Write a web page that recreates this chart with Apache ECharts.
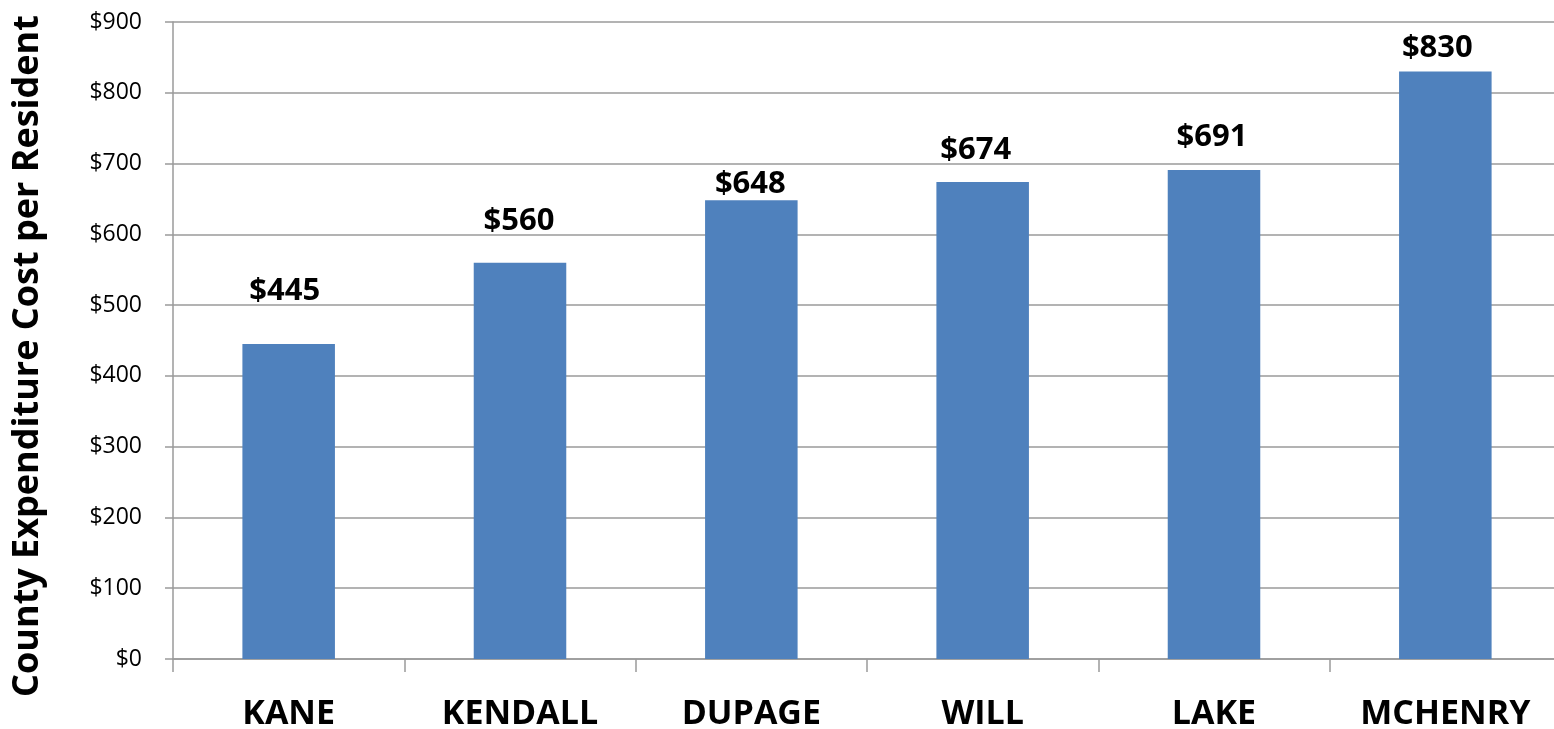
<!DOCTYPE html>
<html>
<head>
<meta charset="utf-8">
<script src="https://cdn.jsdelivr.net/npm/echarts@6/dist/echarts.min.js"></script>
<style>
html,body{margin:0;padding:0;background:#fff;}
#chart{width:1554px;height:729px;}
</style>
</head>
<body>
<div id="chart"></div>
<script>
const counties = ['KANE', 'KENDALL', 'DUPAGE', 'WILL', 'LAKE', 'MCHENRY'];
const costPerResident = [445, 560, 648, 674, 691, 830];
const yTickValues = [0, 100, 200, 300, 400, 500, 600, 700, 800, 900];
const yAxisTitle = 'County Expenditure Cost per Resident';

// label nudges (style only, relative to each bar's top)
const labelNudge = [[-4, -37], [-1, -26], [-1, -1], [-7, -16], [-2, -17], [-8, -8]];

const FONT = '"Open Sans", "Noto Sans", sans-serif';
const chart = echarts.init(document.getElementById('chart'), null, {renderer: 'canvas'});

const seriesData = costPerResident.map((v, i) => ({
  value: v,
  label: {offset: labelNudge[i]}
}));

chart.setOption({
  animation: false,
  backgroundColor: '#ffffff',
  grid: {left: 173, right: -7, top: 22, bottom: 70, containLabel: false, outerBoundsMode: 'none'},
  graphic: [{
    type: 'text',
    x: 28, y: 356,
    rotation: Math.PI / 2,
    style: {
      text: yAxisTitle,
      fill: '#000',
      font: 'bold 36px "Open Sans", "Noto Sans", sans-serif',
      align: 'center',
      verticalAlign: 'middle'
    }
  }],
  xAxis: {
    type: 'category',
    data: counties,
    boundaryGap: true,
    axisLine: {show: true, lineStyle: {color: '#9a9a9a', width: 1.5}},
    axisTick: {show: true, alignWithLabel: false, length: 13, lineStyle: {color: '#9a9a9a', width: 1.5}},
    axisLabel: {
      show: true, interval: 0, margin: 38,
      color: '#000', fontFamily: FONT, fontWeight: 'bold', fontSize: 34
    },
    splitLine: {show: false}
  },
  yAxis: {
    type: 'value',
    min: yTickValues[0],
    max: yTickValues[yTickValues.length - 1],
    interval: yTickValues[1] - yTickValues[0],
    axisLine: {show: true, lineStyle: {color: '#9a9a9a', width: 1.5}},
    axisTick: {show: true, length: 8, lineStyle: {color: '#9a9a9a', width: 1.5}},
    axisLabel: {
      margin: 31, color: '#000', fontFamily: FONT, fontSize: 23,
      formatter: v => '$' + v
    },
    splitLine: {show: true, lineStyle: {color: '#9a9a9a', width: 1.5}}
  },
  series: [{
    type: 'bar',
    data: seriesData,
    barWidth: '40%',
    itemStyle: {color: '#4f81bd'},
    label: {
      show: true, position: 'top', distance: 0,
      color: '#000', fontFamily: FONT, fontWeight: 'bold', fontSize: 31,
      formatter: p => '$' + p.value
    }
  }]
});
</script>
</body>
</html>
